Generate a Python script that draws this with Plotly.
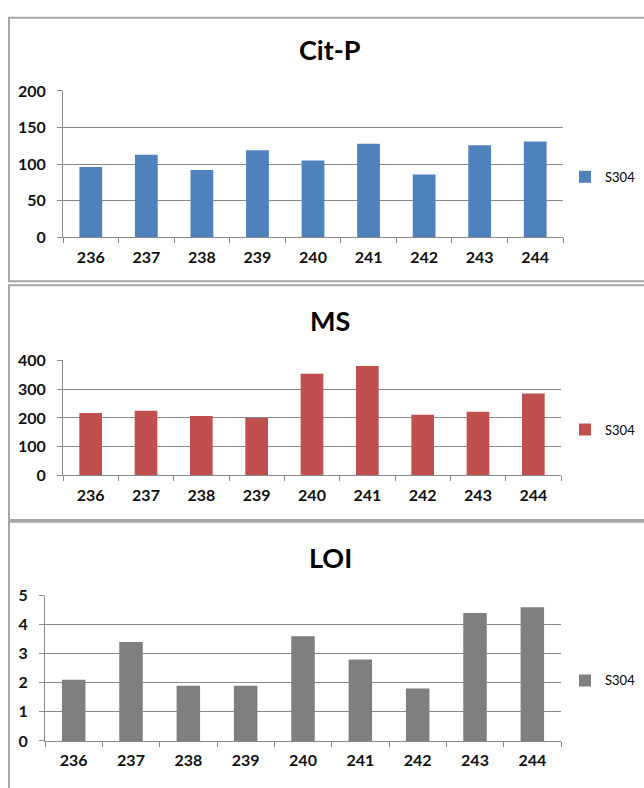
import plotly.graph_objects as go

# Sample positions shared by all three panels
samples = ["236", "237", "238", "239", "240", "241", "242", "243", "244"]
series_name = "S304"

# Measured values per panel
cit_p = [96, 113, 92, 119, 105, 128, 86, 126, 131]
ms = [217, 225, 207, 200, 353, 380, 211, 221, 285]
loi = [2.1, 3.4, 1.9, 1.9, 3.6, 2.8, 1.8, 4.4, 4.6]

titles = ["Cit-P", "MS", "LOI"]
colors = ["#4F81BD", "#C0504D", "#7F7F7F"]
y_ranges = [[0, 200], [0, 400], [0, 5]]
y_dticks = [50, 100, 1]

W, H = 644, 788


def fx(px):
    return px / W


def fy(py):
    return 1 - py / H


# Plot-area boxes in pixels: (left, right, top, bottom)
boxes = [(63, 563, 83, 233), (63, 561, 359, 477), (45, 561, 600, 749)]
# Chart frames: (top, bottom)
frames = [(8, 278), (282, 522.5), (524.5, 800)]
title_y = [40, 318, 561]
legend_y = [171, 430, 687]

FONT = "Lato"
GRID = "#8A8A8A"
TEXT = "#111111"

fig = go.Figure()
layout = dict(
    width=W, height=H,
    margin=dict(l=0, r=0, t=0, b=0),
    paper_bgcolor="white", plot_bgcolor="white",
    bargap=0.59,
    font=dict(family=FONT, color=TEXT),
    shapes=[], annotations=[],
)

for i, vals in enumerate([cit_p, ms, loi]):
    n = "" if i == 0 else str(i + 1)
    leg = "legend" + n
    fig.add_trace(go.Bar(
        x=samples, y=vals, name=series_name,
        marker=dict(color=colors[i], line=dict(width=0)),
        xaxis="x" + n, yaxis="y" + n, legend=leg,
        showlegend=True,
    ))
    l, r, t, b = boxes[i]
    layout["xaxis" + n] = dict(
        domain=[fx(l), fx(r)], anchor="y" + n, type="category",
        showline=True, linecolor=GRID, linewidth=1,
        ticks="outside", tickson="boundaries", ticklen=5, tickcolor=GRID,
        showgrid=False, ticklabelstandoff=5,
        tickfont=dict(family=FONT, size=16, color=TEXT, weight="bold"),
        fixedrange=True,
    )
    layout["yaxis" + n] = dict(
        domain=[fy(b), fy(t)], anchor="x" + n,
        range=y_ranges[i], dtick=y_dticks[i], tick0=0,
        showline=True, linecolor=GRID, linewidth=1,
        ticks="outside", ticklen=5, tickcolor=GRID,
        showgrid=True, gridcolor=GRID, gridwidth=1, zeroline=False,
        ticklabelstandoff=8,
        tickfont=dict(family=FONT, size=16, color=TEXT, weight="bold"),
        fixedrange=True,
    )
    layout[leg] = dict(
        x=fx(565), xanchor="left", y=fy(legend_y[i]), yanchor="middle",
        font=dict(family=FONT, size=13, color="black"),
        bgcolor="rgba(0,0,0,0)", itemwidth=30,
    )
    layout["annotations"].append(dict(
        text="<b>" + titles[i] + "</b>", xref="paper", yref="paper",
        x=fx(330), y=fy(title_y[i]), xanchor="center", yanchor="middle",
        showarrow=False, font=dict(family=FONT, size=27, color="black"),
    ))
    ft, fb = frames[i]
    layout["shapes"].append(dict(
        type="rect", xref="paper", yref="paper",
        x0=fx(9), x1=fx(700), y0=fy(fb), y1=fy(ft),
        line=dict(color="#A6A6A6", width=2), fillcolor="rgba(0,0,0,0)",
        layer="below",
    ))

fig.update_layout(**layout)
fig.write_html("out.html")
